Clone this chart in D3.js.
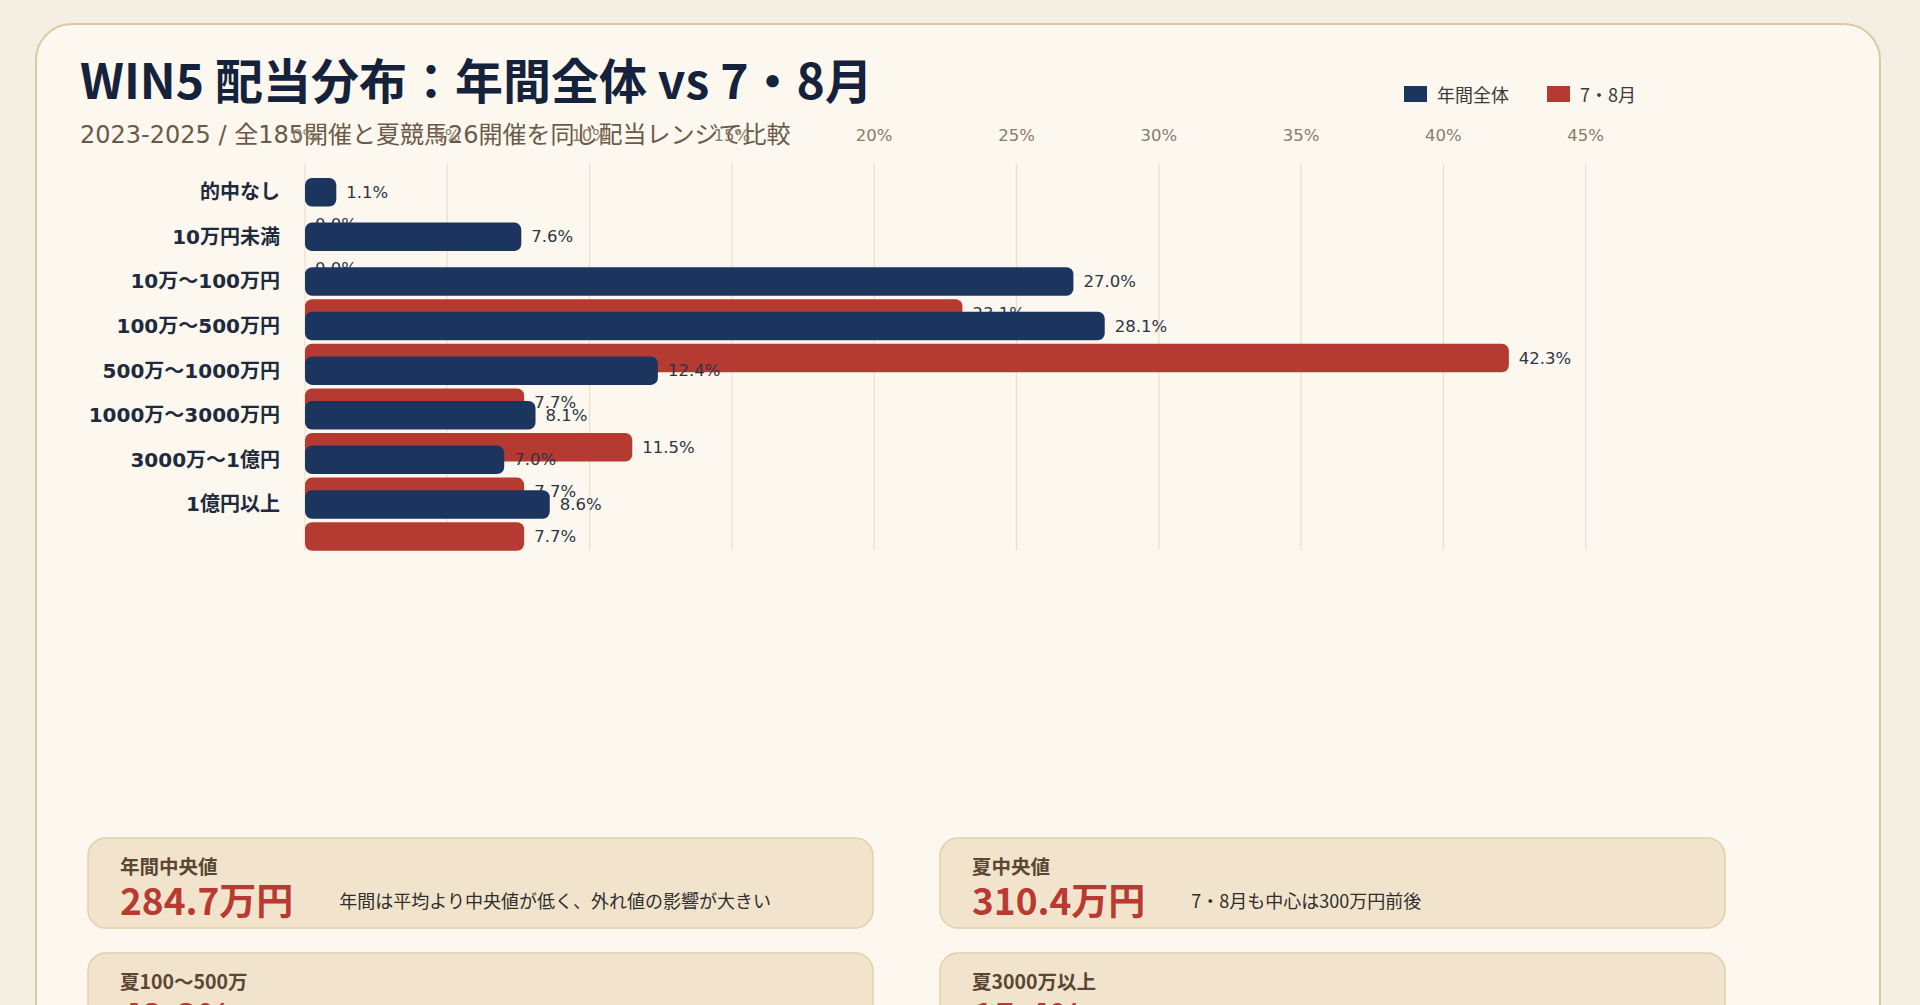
<!DOCTYPE html>
<html>
<head>
<meta charset="utf-8">
<script src="https://cdn.jsdelivr.net/npm/d3@7"></script>
<style>
  html, body { margin: 0; padding: 0; background: #f4eee3; overflow: hidden; }
  svg { display: block; font-family: "Noto Sans CJK JP", "Noto Sans", sans-serif; }
  .latin { font-family: "DejaVu Sans", "Noto Sans CJK JP", sans-serif; }
</style>
</head>
<body>
<div id="page"></div>
<script>
// Chart data
var categories = ['的中なし', '10万円未満', '10万〜100万円', '100万〜500万円', '500万〜1000万円', '1000万〜3000万円', '3000万〜1億円', '1億円以上'];
var seriesNames = ['年間全体', '7・8月'];
var yearValues = [1.1, 7.6, 27.0, 28.1, 12.4, 8.1, 7.0, 8.6];
var summerValues = [0.0, 0.0, 23.1, 42.3, 7.7, 11.5, 7.7, 7.7];
var seriesColors = ['#1c355e', '#b53a32'];

// Summary cards
var statLabels = ['年間中央値', '夏中央値', '夏100〜500万', '夏3000万以上'];
var statValues = ['284.7万円', '310.4万円', '42.3%', '15.4%'];
var statNotes = ['年間は平均より中央値が低く、外れ値の影響が大きい', '7・8月も中心は300万円前後', '', ''];

var W = 1920, H = 1005;

var svg = d3.select('#page')
  .append('svg')
    .attr('width', W)
    .attr('height', H);

//Outer card
svg.append('rect')
  .attr('x', 36).attr('y', 24)
  .attr('width', 1844).attr('height', 1100)
  .attr('rx', 36)
  .attr('fill', '#fcf8f0')
  .attr('stroke', '#dccaa4')
  .attr('stroke-width', 2);

//Title and subtitle
svg.append('text')
  .attr('x', 80).attr('y', 99)
  .attr('font-size', 48)
  .attr('font-weight', 700)
  .attr('fill', '#15223b')
  .text('WIN5 配当分布：年間全体 vs 7・8月');

svg.append('text')
  .attr('class', 'latin')
  .attr('x', 80).attr('y', 135)
  .attr('dominant-baseline', 'central')
  .attr('font-size', 24)
  .attr('fill', '#6b5a47')
  .text('2023-2025 / 全185開催と夏競馬26開催を同じ配当レンジで比較');

//Scales
var x = d3.scaleLinear()
  .domain([0, d3.max(summerValues.concat(yearValues)) * 1.1])
  .range([305, 305 + 46.53 * 28.46]);

var y = d3.scaleBand()
  .domain(categories)
  .range([163, 163 + categories.length * 44.6]);

var y1 = d3.scaleBand()
  .domain(seriesNames)
  .range([15, 75.5])
  .paddingInner(0.109);

//Grid and top tick labels
var ticks = x.ticks(10);
svg.selectAll('.grid').data(ticks).enter().append('line')
  .attr('class', 'grid')
  .attr('x1', function(d){ return x(d); })
  .attr('x2', function(d){ return x(d); })
  .attr('y1', 163)
  .attr('y2', 550)
  .attr('stroke', '#ebdfc9')
  .attr('stroke-width', 1.2);

svg.selectAll('.tick-label').data(ticks).enter().append('text')
  .attr('class', 'tick-label latin')
  .attr('x', function(d){ return x(d); })
  .attr('y', 135)
  .attr('text-anchor', 'middle')
  .attr('dominant-baseline', 'central')
  .attr('font-size', 16.5)
  .attr('fill', '#8b7b67')
  .text(function(d){ return d + '%'; });

//Category labels
svg.selectAll('.cat').data(categories).enter().append('text')
  .attr('class', 'cat latin')
  .attr('x', 280)
  .attr('y', function(d){ return y(d) + y1(seriesNames[0]) + y1.bandwidth() / 2; })
  .attr('text-anchor', 'end')
  .attr('dominant-baseline', 'central')
  .attr('font-size', 20)
  .attr('font-weight', 700)
  .attr('fill', '#1f2a3c')
  .text(function(d){ return d; });

//Bars, one group per category (later groups sit on top of earlier ones)
var rows = categories.map(function(c, i){
  return { cat: c, values: [yearValues[i], summerValues[i]] };
});

var groups = svg.selectAll('.row').data(rows).enter().append('g')
  .attr('class', 'row')
  .attr('transform', function(d){ return 'translate(0,' + y(d.cat) + ')'; });

groups.each(function(d){
  var g = d3.select(this);
  var items = d.values.map(function(v, k){ return { v: v, s: seriesNames[k], k: k }; });

  g.selectAll('rect').data(items).enter().append('rect')
    .attr('x', x(0))
    .attr('y', function(e){ return y1(e.s); })
    .attr('width', function(e){ return Math.max(0, x(e.v) - x(0)); })
    .attr('height', y1.bandwidth())
    .attr('rx', 7)
    .attr('fill', function(e){ return seriesColors[e.k]; });

  g.selectAll('text').data(items).enter().append('text')
    .attr('class', 'latin')
    .attr('x', function(e){ return x(e.v) + 10; })
    .attr('y', function(e){ return y1(e.s) + y1.bandwidth() / 2; })
    .attr('dominant-baseline', 'central')
    .attr('font-size', 16.5)
    .attr('fill', '#2e3442')
    .text(function(e){ return e.v.toFixed(1) + '%'; });
});

//Legend
var legend = svg.selectAll('.legend').data(seriesNames).enter().append('g')
  .attr('class', 'legend')
  .attr('transform', function(d, i){ return 'translate(' + [1404, 1547][i] + ',86)'; });

legend.append('rect')
  .attr('width', 23).attr('height', 16)
  .attr('fill', function(d, i){ return seriesColors[i]; });

legend.append('text')
  .attr('x', 33).attr('y', 8)
  .attr('dominant-baseline', 'central')
  .attr('font-size', 18)
  .attr('fill', '#3a3a3a')
  .text(function(d){ return d; });

//Summary cards
var cardX = [88, 940], cardY = [838, 953];
statLabels.forEach(function(label, i){
  var cx = cardX[i % 2], cy = cardY[Math.floor(i / 2)];
  var card = svg.append('g').attr('transform', 'translate(' + cx + ',' + cy + ')');

  card.append('rect')
    .attr('width', 785).attr('height', 90)
    .attr('rx', 18)
    .attr('fill', '#f2e4cc')
    .attr('stroke', '#e2cfac')
    .attr('stroke-width', 1.5);

  card.append('text')
    .attr('x', 32).attr('y', 27)
    .attr('dominant-baseline', 'central')
    .attr('font-size', 19.5)
    .attr('font-weight', 700)
    .attr('fill', '#5b4633')
    .text(label);

  var val = card.append('text')
    .attr('x', 32).attr('y', 61)
    .attr('dominant-baseline', 'central')
    .attr('font-size', 37)
    .attr('font-weight', 700)
    .attr('fill', '#b83a32')
    .text(statValues[i]);

  var vw = val.node().getComputedTextLength();
  card.append('text')
    .attr('x', 32 + vw + 46).attr('y', 62)
    .attr('dominant-baseline', 'central')
    .attr('font-size', 18)
    .attr('fill', '#2e2e2e')
    .text(statNotes[i]);
});
</script>
</body>
</html>
